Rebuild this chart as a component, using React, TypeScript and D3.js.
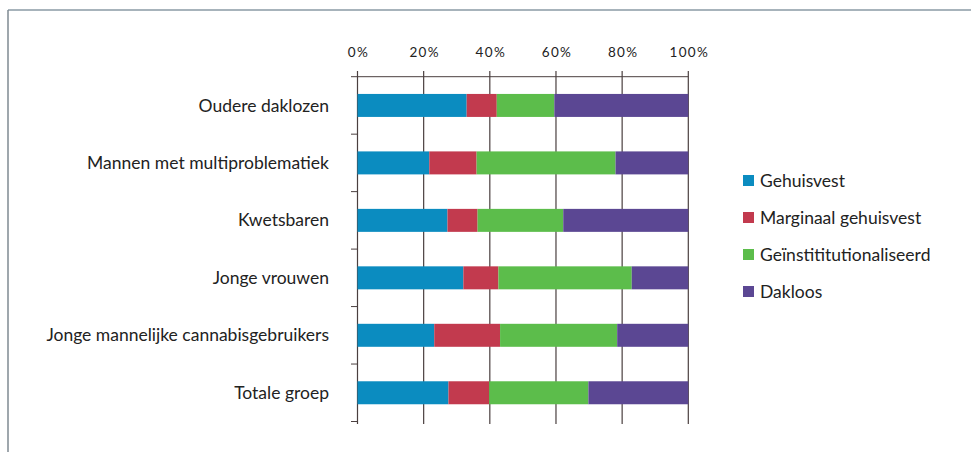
import React from "react";
import * as d3 from "d3";

const categories = [
  "Oudere daklozen",
  "Mannen met multiproblematiek",
  "Kwetsbaren",
  "Jonge vrouwen",
  "Jonge mannelijke cannabisgebruikers",
  "Totale groep",
];
const seriesNames = ["Gehuisvest", "Marginaal gehuisvest", "Geïnstititutionaliseerd", "Dakloos"];
const gehuisvest = [33.0, 21.7, 27.2, 32.0, 23.2, 27.5];
const marginaal = [9.1, 14.3, 9.1, 10.6, 19.9, 12.3];
const geinst = [17.4, 42.0, 25.9, 40.3, 35.4, 30.0];
const dakloos = [40.5, 22.0, 37.8, 17.1, 21.5, 30.2];
const tickValues = [0, 20, 40, 60, 80, 100];
const colors = ["#0b8cc0", "#c23a4e", "#5cbd4b", "#5b4793"];

const W = 971;
const H = 452;
const FONT = "Lato, 'Open Sans', sans-serif";

export default function App() {
  const x = d3.scaleLinear().domain([0, 100]).range([357.5, 688.3]);
  const y = d3.scaleBand<string>().domain(categories).range([76.7, 421.5]).paddingInner(0.6).paddingOuter(0.3);
  const series = [gehuisvest, marginaal, geinst, dakloos];
  const rows = categories.map((c, i) => {
    let acc = 0;
    return series.map((s, k) => {
      const x0 = acc;
      acc += s[i];
      return { c, k, x0, x1: acc };
    });
  });
  const step = y.step();
  const bounds = d3.range(categories.length + 1).map((i) => 76.7 + i * step);
  const lineColor = "#4a3f3f";
  return (
    <svg width={W} height={H} style={{ position: "absolute", left: 0, top: 0, background: "#fff" }}>
      <rect x={0} y={0} width={W} height={H} fill="#fff" />
      <line x1={8} x2={W} y1={10} y2={10} stroke="#8a9aa4" strokeWidth={1.5} />
      <line x1={8} x2={8} y1={10} y2={H} stroke="#7f8a92" strokeWidth={1.5} />
      {/* top axis */}
      <line x1={351} x2={x(100)} y1={76.7} y2={76.7} stroke={lineColor} strokeWidth={1} />
      {tickValues.map((t) => (
        <g key={t}>
          <line x1={x(t)} x2={x(t)} y1={71} y2={424} stroke={lineColor} strokeWidth={1.2} />
          <text x={x(t) + 1} y={57} textAnchor="middle" fontFamily={FONT} fontSize={13.5} fill="#222" letterSpacing={1.3}>
            {t}%
          </text>
        </g>
      ))}
      {/* left ticks */}
      {bounds.slice(1).map((b, i) => (
        <line key={i} x1={351} x2={x(0)} y1={b} y2={b} stroke={lineColor} strokeWidth={1} />
      ))}
      {rows.map((r) =>
        r.map((seg) => (
          <rect
            key={seg.c + seg.k}
            x={x(seg.x0)}
            y={y(seg.c)}
            width={x(seg.x1) - x(seg.x0)}
            height={y.bandwidth()}
            fill={colors[seg.k]}
          />
        ))
      )}
      {categories.map((c) => (
        <text key={c} x={329} y={(y(c) as number) + y.bandwidth() / 2} dy="0.35em" textAnchor="end" fontFamily={FONT} fontSize={17.5} fill="#222">
          {c}
        </text>
      ))}
      {seriesNames.map((s, i) => (
        <g key={s} transform={`translate(743, ${175 + i * 37})`}>
          <rect x={0} y={0} width={11} height={11} fill={colors[i]} />
          <text x={17} y={5.5} dy="0.35em" fontFamily={FONT} fontSize={17.5} fill="#222">
            {s}
          </text>
        </g>
      ))}
    </svg>
  );
}
